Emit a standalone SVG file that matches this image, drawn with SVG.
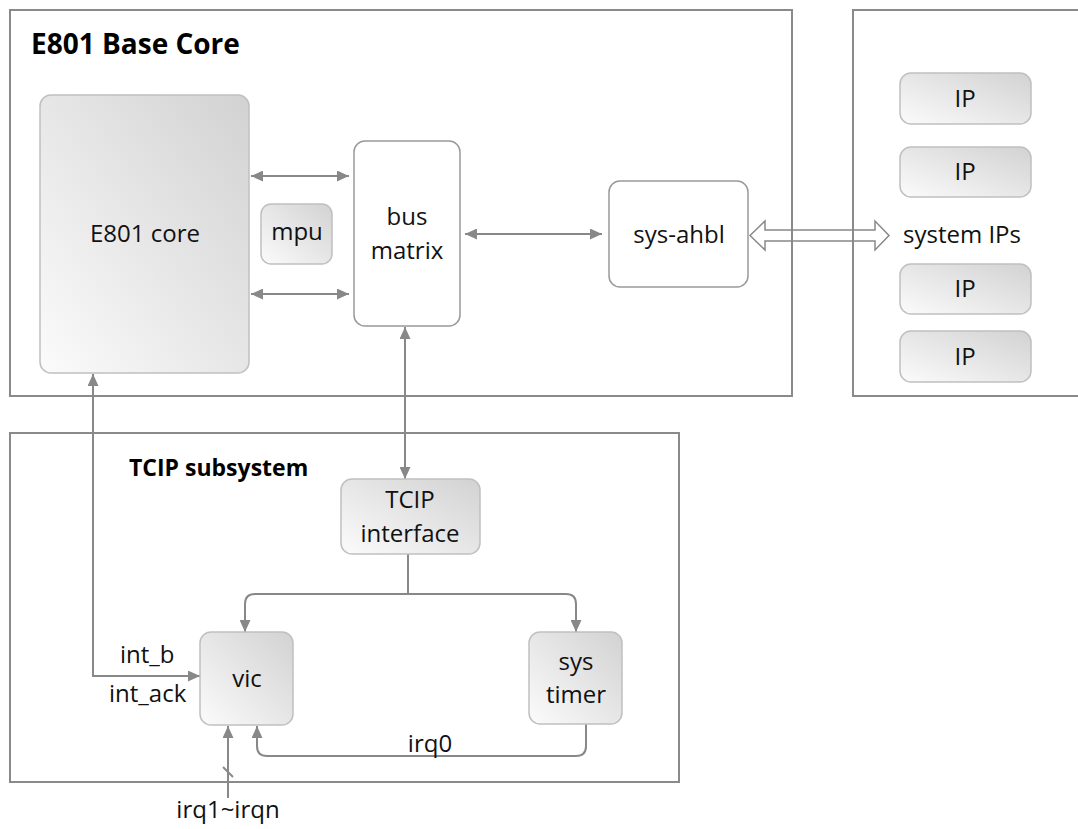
<svg xmlns="http://www.w3.org/2000/svg" width="1078" height="829" viewBox="0 0 1078 829">
<defs>
<linearGradient id="g" x1="0" y1="1" x2="1" y2="0">
<stop offset="0" stop-color="#fbfbfb"/>
<stop offset="1" stop-color="#d2d2d2"/>
</linearGradient>
<marker id="ah" viewBox="0 0 12 11" refX="12" refY="5.5" markerWidth="12" markerHeight="11" markerUnits="userSpaceOnUse" orient="auto-start-reverse">
<path d="M0,0 L12,5.5 L0,11 z" fill="#888"/>
</marker>
<style>
.frame{fill:none;stroke:#8a8a8a;stroke-width:2}
.grad{fill:url(#g);stroke:#c0c0c0;stroke-width:1.5}
.plain{fill:#fff;stroke:#999;stroke-width:1.5}
.t{font-family:"Open Sans","Noto Sans","Liberation Sans",sans-serif;font-size:24px;fill:#111;text-anchor:middle}
.tl{font-family:"Open Sans","Noto Sans","Liberation Sans",sans-serif;font-size:24px;fill:#111}
.title{font-family:"Open Sans","Noto Sans","Liberation Sans",sans-serif;font-weight:bold;fill:#000}
.c{fill:none;stroke:#888;stroke-width:2}
</style>
</defs>
<rect width="1078" height="829" fill="#fff"/>

<g id="base-core">
<rect class="frame" x="10" y="10" width="782" height="386"/>
<text class="title" x="31" y="54" font-size="28">E801 Base Core</text>
</g>
<g id="system-ips">
<rect class="frame" x="853" y="10" width="240" height="386"/>
<text class="tl" x="903" y="243">system IPs</text>
</g>
<g id="tcip-subsystem">
<rect class="frame" x="10" y="433" width="669" height="349"/>
<text class="title" x="129" y="476" font-size="23">TCIP subsystem</text>
</g>

<g id="connectors">
<line class="c" x1="251" y1="176" x2="349" y2="176" marker-start="url(#ah)" marker-end="url(#ah)"/>
<line class="c" x1="251" y1="294" x2="349" y2="294" marker-start="url(#ah)" marker-end="url(#ah)"/>
<line class="c" x1="465" y1="234" x2="602" y2="234" marker-start="url(#ah)" marker-end="url(#ah)"/>
<polygon points="750,235.5 765,221 765,230 875,230 875,221 889,235.5 875,250 875,241 765,241 765,250" fill="none" stroke="#888" stroke-width="1.5"/>
<line class="c" x1="405" y1="327" x2="405" y2="479" marker-start="url(#ah)" marker-end="url(#ah)"/>
<line class="c" x1="408" y1="554" x2="408" y2="594"/>
<path class="c" d="M245,632 L245,604 Q245,594 255,594 L566,594 Q576,594 576,604 L576,632" marker-start="url(#ah)" marker-end="url(#ah)"/>
<path class="c" d="M586,724 L586,746 Q586,756 576,756 L267,756 Q257,756 257,746 L257,726" marker-end="url(#ah)"/>
<path class="c" d="M93,374 L93,676 L200,676" marker-start="url(#ah)" marker-end="url(#ah)"/>
<line class="c" x1="228" y1="798" x2="228" y2="726" marker-end="url(#ah)"/>
<line class="c" x1="223" y1="767" x2="233" y2="777"/>
<text class="tl" x="120" y="663" font-size="25">int_b</text>
<text class="tl" x="109" y="702" font-size="25">int_ack</text>
<text class="t" x="430" y="752">irq0</text>
<text class="t" x="228" y="818">irq1~irqn</text>
</g>

<g id="e801-core">
<rect class="grad" x="40" y="95" width="209" height="278" rx="11"/>
<text class="t" x="145" y="242">E801 core</text>
</g>
<g id="mpu">
<rect class="grad" x="261" y="204" width="71" height="60" rx="10"/>
<text class="t" x="297" y="240" font-size="18">mpu</text>
</g>
<g id="bus-matrix">
<rect class="plain" x="354" y="141" width="106" height="185" rx="11"/>
<text class="t" x="407" y="225">bus</text>
<text class="t" x="407" y="259">matrix</text>
</g>
<g id="sys-ahbl">
<rect class="plain" x="609" y="181" width="139" height="106" rx="11"/>
<text class="t" x="679" y="243">sys-ahbl</text>
</g>
<g id="ip1"><rect class="grad" x="900" y="73" width="131" height="51" rx="11"/><text class="t" x="965" y="107" font-size="22">IP</text></g>
<g id="ip2"><rect class="grad" x="900" y="147" width="131" height="50" rx="11"/><text class="t" x="965" y="180" font-size="22">IP</text></g>
<g id="ip3"><rect class="grad" x="900" y="264" width="131" height="50" rx="11"/><text class="t" x="965" y="297" font-size="22">IP</text></g>
<g id="ip4"><rect class="grad" x="900" y="331" width="131" height="51" rx="11"/><text class="t" x="965" y="365" font-size="22">IP</text></g>
<g id="tcip-interface">
<rect class="grad" x="341" y="479" width="139" height="75" rx="11"/>
<text class="t" x="410" y="508">TCIP</text>
<text class="t" x="410" y="542">interface</text>
</g>
<g id="vic">
<rect class="grad" x="200" y="632" width="93" height="93" rx="11"/>
<text class="t" x="247" y="687">vic</text>
</g>
<g id="sys-timer">
<rect class="grad" x="529" y="632" width="93" height="92" rx="11"/>
<text class="t" x="576" y="670">sys</text>
<text class="t" x="576" y="703">timer</text>
</g>
</svg>
